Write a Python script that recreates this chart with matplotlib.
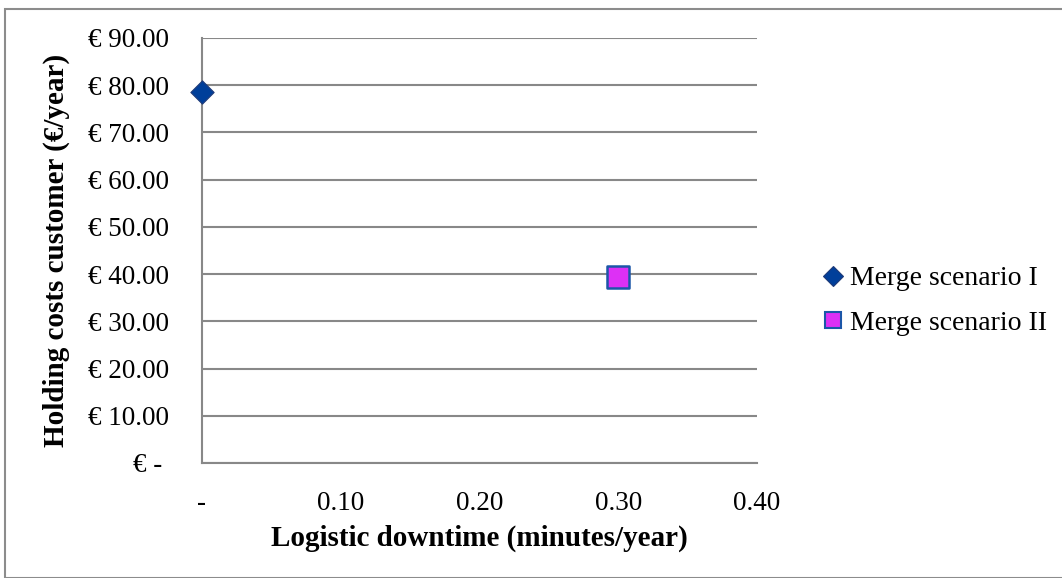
import matplotlib
matplotlib.use("Agg")
import matplotlib.pyplot as plt
from matplotlib.patches import Rectangle
from matplotlib.lines import Line2D
from matplotlib.ticker import FixedLocator, FuncFormatter

# Data
series_names = ["Merge scenario I", "Merge scenario II"]
downtime = [0.0, 0.30]          # minutes/year
holding_costs = [78.5, 39.4]    # euro/year
x_ticks = [0.0, 0.10, 0.20, 0.30, 0.40]
y_ticks = [0, 10, 20, 30, 40, 50, 60, 70, 80, 90]

plt.rcParams['font.family'] = ['Liberation Serif', 'DejaVu Serif']

W, H = 1062, 578
fig = plt.figure(figsize=(W / 100, H / 100), dpi=100)

# chart border
fig.patches.append(Rectangle((5 / W, 0), 1.5, 1 - 9 / H, transform=fig.transFigure,
                             fill=False, edgecolor='#8c8c8c', linewidth=1.5))

ax = fig.add_axes([202 / W, 1 - 463 / H, (757 - 202) / W, (463 - 38) / H])
ax.set_xlim(0, 0.40)
ax.set_ylim(0, 90)

grid_c = '#888888'
for s in ['top', 'right']:
    ax.spines[s].set_visible(False)
for s in ['left', 'bottom']:
    ax.spines[s].set_color(grid_c)
    ax.spines[s].set_linewidth(1.5)
ax.yaxis.grid(True, color=grid_c, linewidth=1.5)
ax.set_axisbelow(True)

ax.xaxis.set_major_locator(FixedLocator(x_ticks))
ax.yaxis.set_major_locator(FixedLocator(y_ticks))
ax.xaxis.set_major_formatter(FuncFormatter(lambda v, p: '-' if abs(v) < 1e-9 else f'{v:.2f}'))
ax.yaxis.set_major_formatter(FuncFormatter(lambda v, p: '€ - ' if abs(v) < 1e-9 else f'€ {v:.2f}'))
ax.tick_params(axis='both', length=0, labelsize=19.5, colors='black')
ax.tick_params(axis='x', pad=20)
ax.tick_params(axis='y', pad=24)

diamond_c, diamond_e = '#003f9a', '#1f3a78'
square_c, square_e = '#dd30f5', '#1c56a8'

ax.scatter([downtime[0]], [holding_costs[0]], marker='D', s=140, color=diamond_c,
           edgecolor=diamond_e, linewidth=0.8, zorder=5, clip_on=False)
ax.scatter([downtime[1]], [holding_costs[1]], marker='s', s=230, color=square_c,
           edgecolor=square_e, linewidth=1.8, zorder=5, clip_on=False)

ax.set_xlabel('Logistic downtime (minutes/year)', fontsize=21, fontweight='bold')
ax.set_ylabel('Holding costs customer (€/year)', fontsize=21, fontweight='bold')
ax.xaxis.set_label_coords(0.5, -0.146)
ax.yaxis.set_label_coords(-0.238, 0.5)

handles = [
    Line2D([], [], linestyle='none', marker='D', markersize=10.5, markerfacecolor=diamond_c,
           markeredgecolor=diamond_e, markeredgewidth=0.8),
    Line2D([], [], linestyle='none', marker='s', markersize=11.5, markerfacecolor=square_c,
           markeredgecolor=square_e, markeredgewidth=1.5),
]
leg = fig.legend(handles, series_names, loc='center left', bbox_to_anchor=(819 / W, 1 - 301 / H),
                 frameon=False, fontsize=20, handletextpad=0.1, labelspacing=0.7,
                 handlelength=1.0, borderaxespad=0, borderpad=0)

fig.savefig('out.png', dpi=100)
